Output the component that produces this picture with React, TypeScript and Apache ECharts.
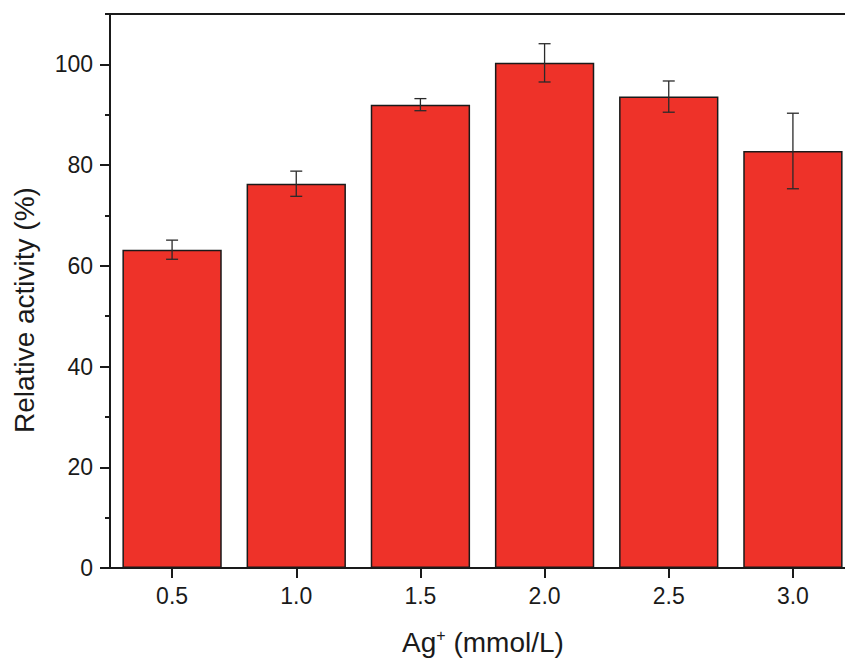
import React, { useEffect, useRef } from "react";
import * as echarts from "echarts";

const categories = ["0.5", "1.0", "1.5", "2.0", "2.5", "3.0"];
const activity = [63.2, 76.3, 92.0, 100.3, 93.6, 82.8];
const errors = [1.9, 2.5, 1.2, 3.8, 3.1, 7.5];
const majorTicks = [0, 20, 40, 60, 80, 100];
const minorTicks = [10, 30, 50, 70, 90, 110];
const yMin = 0;
const yMax = 110;

const FONT = "'Liberation Sans', Arial, sans-serif";
const INK = "#1a1a1a";

export default function App() {
  const ref = useRef<HTMLDivElement>(null);
  useEffect(() => {
    if (!ref.current) return;
    const chart = echarts.init(ref.current, undefined, { renderer: "svg" });
    const errData = activity.map((v, i) => [i, v - errors[i], v + errors[i]]);
    chart.setOption({
      animation: false,
      backgroundColor: "#ffffff",
      grid: { left: 110, top: 14, right: 0, bottom: 90, containLabel: false },
      xAxis: [
        {
          type: "category",
          data: categories,
          position: "bottom",
          axisLine: { show: true, onZero: false, lineStyle: { color: INK, width: 2 } },
          axisTick: { show: true, alignWithLabel: true, length: 10, inside: false, lineStyle: { color: INK, width: 2 } },
          axisLabel: { color: INK, fontSize: 23, fontFamily: FONT, margin: 16 },
          splitLine: { show: false },
        },
        {
          type: "category",
          data: categories,
          position: "top",
          axisLine: { show: true, onZero: false, lineStyle: { color: INK, width: 2 } },
          axisTick: { show: false },
          axisLabel: { show: false },
          splitLine: { show: false },
        },
      ],
      yAxis: [
        {
          type: "value",
          min: yMin,
          max: yMax,
          position: "left",
          axisLine: { show: true, onZero: false, lineStyle: { color: INK, width: 2 } },
          axisTick: { show: true, length: 10, customValues: majorTicks, lineStyle: { color: INK, width: 2 } },
          axisLabel: { color: INK, fontSize: 23, fontFamily: FONT, margin: 17, customValues: majorTicks },
          splitLine: { show: false },
        },
        {
          type: "value",
          min: yMin,
          max: yMax,
          position: "left",
          axisLine: { show: false, onZero: false },
          axisTick: { show: true, length: 5, customValues: minorTicks, lineStyle: { color: INK, width: 2 } },
          axisLabel: { show: false },
          splitLine: { show: false },
        },
      ],
      graphic: [
        {
          type: "text",
          x: 24,
          y: 310,
          rotation: Math.PI / 2,
          style: {
            text: "Relative activity (%)",
            fontSize: 28,
            fontFamily: FONT,
            fill: INK,
            align: "center",
            verticalAlign: "middle",
          },
        },
        {
          type: "text",
          x: 483,
          y: 642,
          style: {
            text: "{a|Ag}{s|+}{a| (mmol/L)}",
            rich: {
              a: { fontSize: 28, fontFamily: FONT, fill: INK, color: INK },
              s: { fontSize: 16, fontFamily: FONT, fill: INK, color: INK, verticalAlign: "top", padding: [0, 0, 14, 0] },
            },
            align: "center",
            verticalAlign: "middle",
          },
        },
      ],
      series: [
        {
          type: "bar",
          data: activity,
          xAxisIndex: 0,
          yAxisIndex: 0,
          barWidth: "80%",
          itemStyle: { color: "#ee3229", borderColor: INK, borderWidth: 1.5 },
        },
        {
          type: "custom",
          xAxisIndex: 0,
          yAxisIndex: 0,
          data: errData,
          z: 5,
          renderItem: (params: any, api: any) => {
            const i = api.value(0);
            const lo = api.coord([i, api.value(1)]);
            const hi = api.coord([i, api.value(2)]);
            const hw = 6;
            const style = { stroke: "#2a2a2a", lineWidth: 1.3 };
            return {
              type: "group",
              children: [
                { type: "line", shape: { x1: hi[0], y1: hi[1], x2: lo[0], y2: lo[1] }, style },
                { type: "line", shape: { x1: hi[0] - hw, y1: hi[1], x2: hi[0] + hw, y2: hi[1] }, style },
                { type: "line", shape: { x1: lo[0] - hw, y1: lo[1], x2: lo[0] + hw, y2: lo[1] }, style },
              ],
            };
          },
        },
      ],
    });
    return () => chart.dispose();
  }, []);
  return (
    <div style={{ position: "fixed", left: 0, top: 0, width: 845, height: 658, overflow: "hidden" }}>
      <div ref={ref} style={{ width: 855, height: 658 }} />
    </div>
  );
}
